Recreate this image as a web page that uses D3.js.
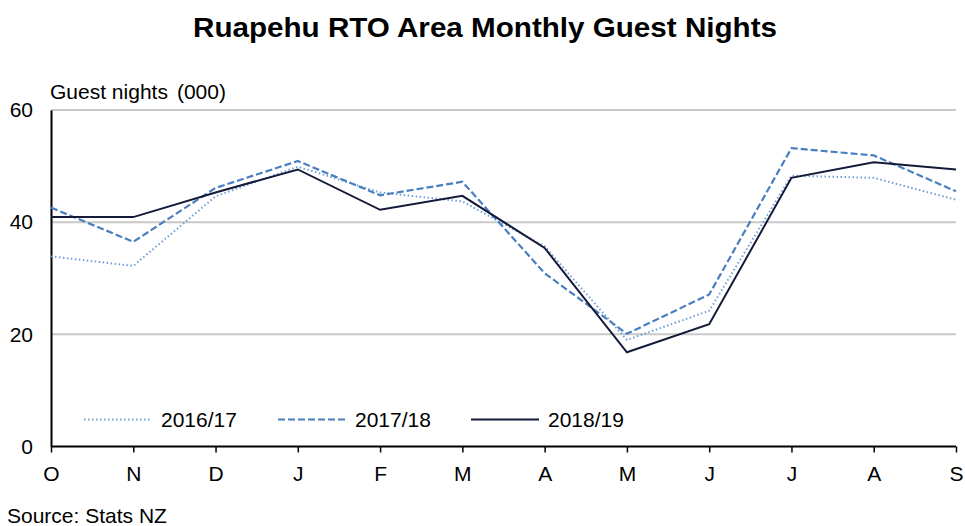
<!DOCTYPE html>
<html><head><meta charset="utf-8">
<script src="https://cdn.jsdelivr.net/npm/d3@7"></script>
<style>body{margin:0;background:#fff;font-family:"Liberation Sans",Arial,sans-serif;}</style>
</head><body><svg id="c" width="965" height="526"></svg>
<script>
const months = ["O","N","D","J","F","M","A","M","J","J","A","S"];
const s1617 = [33.9,32.2,44.6,49.9,45.3,43.7,35.7,19.0,24.2,48.3,47.9,44.0];
const s1718 = [42.6,36.5,46.1,50.9,44.8,47.2,30.9,20.1,27.1,53.2,51.9,45.5];
const s1819 = [40.9,40.9,45.3,49.4,42.2,44.7,35.4,16.8,21.8,47.9,50.7,49.4];
const seriesNames = ["2016/17","2017/18","2018/19"];
const yTicks = [0,20,40,60];

const svg = d3.select("#c");
const L=51, R=956, T=110, B=446.5;
const x = d3.scalePoint().domain(d3.range(months.length)).range([L,R]);
const y = d3.scaleLinear().domain([0,60]).range([B,T]);
const FS = 21;

svg.append("text").attr("x",193).attr("y",37)
  .attr("font-size",27).attr("font-weight","bold")
  .attr("textLength",584).attr("lengthAdjust","spacingAndGlyphs")
  .text("Ruapehu RTO Area Monthly Guest Nights");

// gridlines
svg.append("g").selectAll("line").data(yTicks.filter(d=>d>0)).join("line")
  .attr("x1",L).attr("x2",R).attr("y1",d=>y(d)).attr("y2",d=>y(d))
  .attr("stroke","#c8c8c8").attr("stroke-width",2);

// y axis
const ya = svg.append("g").attr("transform",`translate(${L},0)`)
  .call(d3.axisLeft(y).tickValues(yTicks).tickSize(0).tickPadding(18));
ya.select(".domain").attr("stroke","#000").attr("stroke-width",2);
ya.selectAll("text").attr("font-size",FS).attr("font-family","Liberation Sans, Arial").attr("fill","#000");

// x axis
const xa = svg.append("g").attr("transform",`translate(0,${B})`)
  .call(d3.axisBottom(x).tickSize(6).tickPadding(14).tickFormat(i=>months[i]));
xa.select(".domain").attr("stroke","#000").attr("stroke-width",2).attr("d",`M${L},0H${R}`);
xa.selectAll(".tick line").attr("stroke","#000").attr("stroke-width",1.5);
xa.selectAll("text").attr("font-size",FS).attr("font-family","Liberation Sans, Arial").attr("fill","#000");

const yl = svg.append("text").attr("x",50).attr("y",99).attr("font-size",FS);
yl.append("tspan").text("Guest nights");
yl.append("tspan").attr("dx",9).text("(000)");

const styles = [
  {data:s1617, color:"#6e9fd6", width:2, dash:"1.5,2.5"},
  {data:s1718, color:"#4a7fbf", width:2.2, dash:"7,3"},
  {data:s1819, color:"#131a3a", width:2, dash:null}
];
const line = d3.line().x((d,i)=>x(i)).y(d=>y(d));
styles.forEach(s=>{
  svg.append("path").datum(s.data).attr("d",line).attr("fill","none")
    .attr("stroke",s.color).attr("stroke-width",s.width)
    .attr("stroke-dasharray",s.dash);
});

// legend
const legX = [84,278,471];
styles.forEach((s,i)=>{
  svg.append("line").attr("x1",legX[i]).attr("x2",legX[i]+68).attr("y1",419.5).attr("y2",419.5)
    .attr("stroke",s.color).attr("stroke-width",s.width).attr("stroke-dasharray",s.dash);
  svg.append("text").attr("x",legX[i]+77).attr("y",427).attr("font-size",FS).text(seriesNames[i]);
});

svg.append("text").attr("x",7).attr("y",523).attr("font-size",FS).text("Source: Stats NZ");
</script></body></html>
